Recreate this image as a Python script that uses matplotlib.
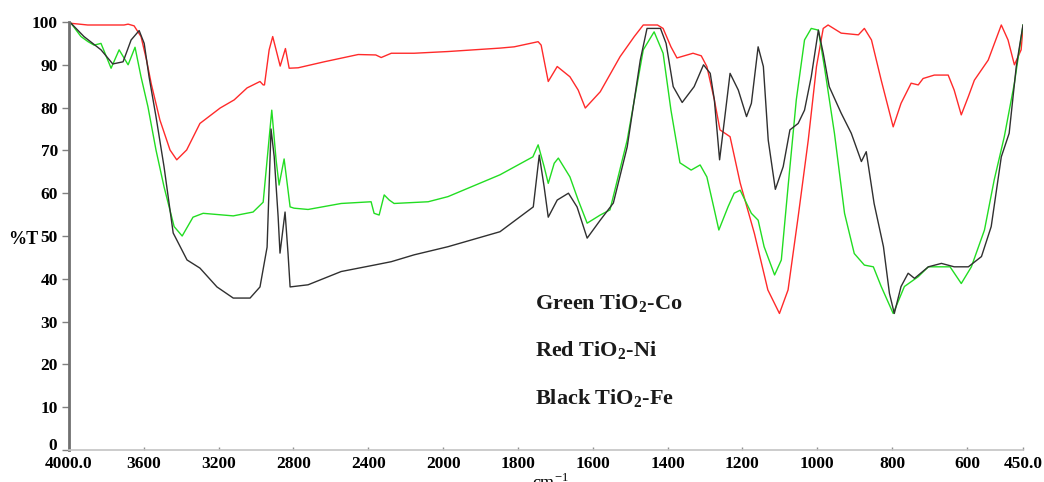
import matplotlib
matplotlib.use("Agg")
import matplotlib.pyplot as plt
import numpy as np

plt.rcParams['font.family'] = ['Liberation Serif', 'DejaVu Serif']
plt.rcParams['mathtext.fontset'] = 'custom'
plt.rcParams['mathtext.rm'] = 'Liberation Serif'
plt.rcParams['mathtext.bf'] = 'Liberation Serif:bold'

# FTIR spectra, wavenumber (cm-1) vs transmittance (%T)
red_wn = [4000, 3990, 3900, 3800, 3706, 3684, 3652, 3615, 3585, 3560, 3514, 3460, 3424, 3371,
          3300, 3192, 3117, 3048, 2979, 2962, 2955, 2930, 2911, 2893, 2871, 2843, 2823, 2775,
          2636, 2454, 2360, 2331, 2277, 2155, 1987, 1848, 1810, 1746, 1738, 1719, 1695, 1661,
          1639, 1620, 1580, 1527, 1489, 1465, 1427, 1412, 1391, 1375, 1332, 1310,
          1295, 1275, 1260, 1233, 1206, 1168, 1132, 1101, 1078, 1051, 1024, 1002, 984, 971,
          936, 890, 874, 855, 829, 797, 776, 749, 730, 717, 687, 650, 634, 615, 596, 580,
          543, 508, 490, 473, 455, 450]
red_t = [99.9, 99.7, 99.3, 99.3, 99.3, 99.5, 99.1, 96.6, 91.0, 85.5, 77.1, 70.1, 67.8, 70.1,
         76.3, 79.9, 81.8, 84.6, 86.1, 85.3, 85.3, 93.5, 96.6, 93.5, 89.7, 93.8, 89.2, 89.3,
         90.7, 92.4, 92.3, 91.7, 92.7, 92.7, 93.1, 93.9, 94.2, 95.4, 94.6, 86.1, 89.6, 87.2,
         84.1, 79.9, 83.7, 91.9, 96.6, 99.3, 99.3, 98.5, 94.2, 91.6, 92.7, 92.1,
         89.6, 81.8, 74.8, 73.2, 62.4, 50.6, 37.4, 31.9, 37.4, 54.5, 72.4, 89.6, 98.5, 99.3,
         97.4, 97.0, 98.5, 95.8, 86.4, 75.5, 81.0, 85.7, 85.3, 86.8, 87.6, 87.6, 84.1, 78.3,
         82.6, 86.4, 91.1, 99.3, 95.8, 90.0, 93.5, 98.9]

black_wn = [4000, 3989, 3920, 3829, 3766, 3711, 3668, 3625, 3598, 3572, 3535, 3492, 3443, 3369,
            3300, 3209, 3122, 3032, 2979, 2941, 2920, 2903, 2882, 2872, 2845,
            2829, 2818, 2722, 2545, 2369, 2277, 2155, 1987, 1848, 1759, 1743, 1730,
            1719, 1695, 1665, 1642, 1615, 1580, 1545, 1508, 1473, 1455, 1419, 1404,
            1385, 1361, 1329, 1304, 1286, 1275, 1261, 1248, 1233, 1211, 1189, 1176, 1158, 1144,
            1131, 1112, 1091, 1073, 1051, 1034, 1016, 997, 984, 968, 936, 909, 882, 869, 848,
            823, 807, 794, 776, 757, 740, 703, 668, 634, 596, 561, 535, 508, 487, 468, 450]
black_t = [99.9, 99.7, 96.6, 93.5, 90.2, 90.7, 95.8, 98.0, 95.0, 87.2, 77.9, 66.2, 50.7, 44.4,
           42.5, 38.1, 35.5, 35.5, 38.1, 47.4, 75.0, 68.5, 54.5, 46.0, 55.6,
           45.9, 38.1, 38.6, 41.7, 43.2, 44.0, 45.6, 47.5, 51.0, 56.8, 68.9, 61.5,
           54.4, 58.4, 60.0, 56.8, 49.5, 53.7, 57.7, 70.8, 91.1, 98.5, 98.5, 95.0,
           84.9, 81.2, 84.9, 90.0, 88.0, 81.8, 67.8, 77.1, 88.0, 84.1, 77.9, 81.0, 94.2, 89.6,
           72.4, 60.9, 66.2, 74.8, 76.3, 79.4, 87.2, 98.1, 92.7, 84.9, 78.7, 74.0, 67.4, 69.7, 57.6,
           47.5, 36.6, 31.9, 38.2, 41.3, 40.1, 42.8, 43.6, 42.8, 42.8, 45.2, 52.2, 68.5, 74.0, 89.6, 99.3]

green_wn = [4000, 3989, 3936, 3898, 3866, 3829, 3775, 3732, 3684, 3647, 3615, 3578, 3535, 3492,
            3438, 3395, 3337, 3283, 3122, 3016, 2962, 2936, 2916, 2893, 2877, 2850, 2818,
            2797, 2722, 2545, 2385, 2369, 2342, 2315, 2288, 2262, 2080, 1987, 1848, 1760,
            1746, 1730, 1719, 1703, 1692, 1661, 1639, 1615, 1580, 1554, 1508, 1465, 1436,
            1412, 1391, 1367, 1337, 1313, 1295, 1275, 1263, 1238, 1222, 1206, 1176, 1158, 1142,
            1114, 1096, 1078, 1056, 1034, 1016, 997, 981, 954, 927, 901, 874, 850, 829, 797,
            767, 730, 703, 668, 645, 615, 588, 553, 527, 500, 473, 450]
green_t = [99.9, 99.7, 96.6, 95.4, 94.6, 95.0, 89.2, 93.5, 90.0, 94.1, 87.2, 80.2, 70.1, 61.5,
           52.2, 50.0, 54.4, 55.3, 54.7, 55.6, 57.9, 70.1, 79.4, 67.8, 61.9, 68.0, 56.8,
           56.5, 56.2, 57.6, 58.0, 55.3, 54.9, 59.6, 58.4, 57.6, 58.0, 59.2, 64.3, 68.5,
           71.3, 66.2, 62.3, 67.0, 68.2, 63.8, 58.4, 53.0, 54.9, 56.1, 72.4, 93.5, 97.7,
           92.7, 79.4, 67.1, 65.4, 66.6, 63.8, 56.1, 51.4, 56.9, 60.0, 60.7, 55.3, 53.7, 47.5,
           40.9, 44.4, 61.5, 81.8, 95.8, 98.5, 98.1, 89.6, 74.0, 55.3, 45.9, 43.2, 42.8, 38.2, 31.9,
           38.2, 40.5, 42.8, 42.8, 42.8, 38.9, 42.8, 51.4, 63.1, 73.2, 85.7, 99.3]

xticks = [4000, 3600, 3200, 2800, 2400, 2000, 1800, 1600, 1400, 1200, 1000, 800, 600, 450]
xticklabels = ['4000.0', '3600', '3200', '2800', '2400', '2000', '1800', '1600', '1400',
               '1200', '1000', '800', '600', '450.0']
yticks = [0, 10, 20, 30, 40, 50, 60, 70, 80, 90, 100]

labels = ['Green TiO$_\\mathbf{2}$-Co', 'Red TiO$_\\mathbf{2}$-Ni', 'Black TiO$_\\mathbf{2}$-Fe']


# instrument-style axis: half scale above 2000 cm-1
def fwd(w):
    w = np.asarray(w, dtype=float)
    return np.where(w <= 2000, w, 2000 + (w - 2000) * 0.5)


def inv(u):
    u = np.asarray(u, dtype=float)
    return np.where(u <= 2000, u, 2000 + (u - 2000) * 2.0)


fig = plt.figure(figsize=(10.44, 4.82), dpi=100)
ax = fig.add_axes([69 / 1044, 1 - 450 / 482, (1023 - 69) / 1044, (450 - 22) / 482])
ax.set_xscale('function', functions=(fwd, inv))

ax.plot(red_wn, red_t, color='#ff2a2a', linewidth=1.0)
ax.plot(green_wn, green_t, color='#22dd22', linewidth=1.0)
ax.plot(black_wn, black_t, color='#303030', linewidth=1.0)

ax.set_xlim(4000, 450)
ax.set_ylim(0, 100)

ax.set_xticks(xticks)
ax.set_xticklabels(xticklabels, fontsize=12.5, fontweight='bold')
ax.set_yticks(yticks)
# the "0" is drawn separately, a little higher, so it clears "4000.0"
ax.set_yticklabels([''] + [str(v) for v in yticks[1:]], fontsize=12.5, fontweight='bold')
ax.annotate(str(yticks[0]), xy=(0, yticks[0]), xycoords=('axes fraction', 'data'),
            xytext=(-8.5, 3), textcoords='offset points', ha='right', va='center',
            fontsize=12.5, fontweight='bold', annotation_clip=False)
ax.minorticks_off()

for s in ['top', 'right']:
    ax.spines[s].set_visible(False)
ax.spines['left'].set_color('#707070')
ax.spines['left'].set_linewidth(2.0)
ax.spines['bottom'].set_color('#c4c4c4')
ax.spines['bottom'].set_linewidth(1.2)

ax.tick_params(axis='y', direction='out', length=5, width=1, color='#808080', pad=3)
ax.tick_params(axis='x', direction='in', length=2, width=1, color='#909090', pad=4.5)

# sample names
for i, txt in enumerate(labels):
    ax.text(1754, 34.2 - i * 11.1, txt, fontsize=16, fontweight='bold', ha='left', va='center',
            color='#1a1a1a')

fig.text(23 / 1044, 1 - 240 / 482, '%T', fontsize=13, fontweight='bold', ha='center', va='center')
fig.text(550 / 1044, 1 - 473 / 482, 'cm$^{-1}$', fontsize=13, ha='center', va='top')

plt.savefig('out.png', dpi=100)
